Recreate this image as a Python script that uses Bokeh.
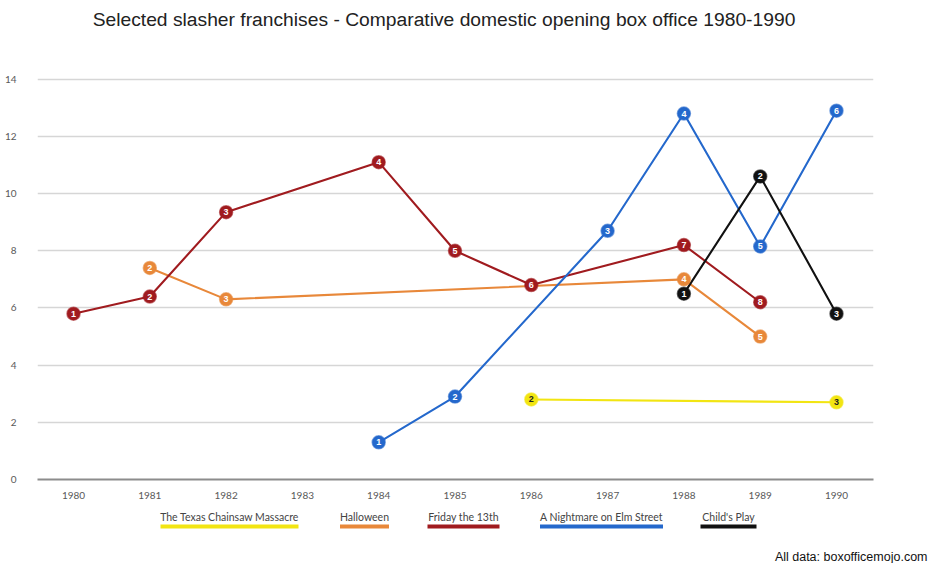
from bokeh.plotting import figure
from bokeh.layouts import column
from bokeh.models import FixedTicker, ColumnDataSource, Title
from bokeh.core.properties import value
from bokeh.embed import file_html
from bokeh.resources import INLINE

title_text = "Selected slasher franchises - Comparative domestic opening box office 1980-1990"
year_ticks = [1980, 1981, 1982, 1983, 1984, 1985, 1986, 1987, 1988, 1989, 1990]
y_ticks = [0, 2, 4, 6, 8, 10, 12, 14]

series_names = ["The Texas Chainsaw Massacre", "Halloween", "Friday the 13th",
                "A Nightmare on Elm Street", "Child's Play"]
series_colors = ["#f2e512", "#e8883a", "#a01b1f", "#2468cc", "#111111"]
number_colors = ["#222222", "white", "white", "white", "white"]

texas_years = [1986, 1990]
texas_vals = [2.8, 2.7]
texas_nums = ["2", "3"]

halloween_years = [1981, 1982, 1988, 1989]
halloween_vals = [7.4, 6.3, 7.0, 5.0]
halloween_nums = ["2", "3", "4", "5"]

friday_years = [1980, 1981, 1982, 1984, 1985, 1986, 1988, 1989]
friday_vals = [5.8, 6.4, 9.35, 11.1, 8.0, 6.8, 8.2, 6.2]
friday_nums = ["1", "2", "3", "4", "5", "6", "7", "8"]

nightmare_years = [1984, 1985, 1987, 1988, 1989, 1990]
nightmare_vals = [1.3, 2.9, 8.7, 12.8, 8.15, 12.9]
nightmare_nums = ["1", "2", "3", "4", "5", "6"]

childs_years = [1988, 1989, 1990]
childs_vals = [6.5, 10.6, 5.8]
childs_nums = ["1", "2", "3"]

footer_text = "All data: boxofficemojo.com"

series = [
    (texas_years, texas_vals, texas_nums),
    (halloween_years, halloween_vals, halloween_nums),
    (friday_years, friday_vals, friday_nums),
    (nightmare_years, nightmare_vals, nightmare_nums),
    (childs_years, childs_vals, childs_nums),
]

W = 929
FL, FR = 37, 56          # frame borders (left / right), shared by all strips
TICK_FONT = "Lato"

# ---- header strip with the title ----
HH = 40
hd = figure(width=W, height=HH, output_backend="svg", toolbar_location=None,
            x_range=(FL, W - FR), y_range=(HH, 0),
            x_axis_location=None, y_axis_location=None, title=None,
            min_border_left=FL, min_border_right=FR, min_border_top=0, min_border_bottom=0)
hd.grid.visible = False
hd.outline_line_color = None
hd.text([443.5], [19], text=[title_text], text_align="center", text_baseline="middle",
        text_font=value("Liberation Sans"), text_font_size="19.25px", text_color="#222222")

# ---- main chart ----
p = figure(width=W, height=501 - HH, output_backend="svg", toolbar_location=None,
           x_range=(1979.528, 1990.485), y_range=(0, 14.2), title=None,
           min_border_left=FL, min_border_right=FR, min_border_top=73 - HH, min_border_bottom=22)
p.outline_line_color = None
p.background_fill_color = "white"
p.border_fill_color = "white"

p.xaxis.ticker = FixedTicker(ticks=year_ticks)
p.xaxis.axis_line_color = "#8c8c8c"
p.xaxis.axis_line_width = 2
p.xaxis.major_tick_line_color = None
p.xaxis.minor_tick_line_color = None
p.xaxis.major_label_standoff = 6
p.xaxis.major_label_text_font = TICK_FONT
p.xaxis.major_label_text_font_size = "10px"
p.xaxis.major_label_text_color = "#595959"

p.yaxis.ticker = FixedTicker(ticks=y_ticks)
p.yaxis.axis_line_color = None
p.yaxis.major_tick_line_color = None
p.yaxis.minor_tick_line_color = None
p.yaxis.major_label_standoff = 15
p.yaxis.major_label_text_font = TICK_FONT
p.yaxis.major_label_text_font_size = "10px"
p.yaxis.major_label_text_color = "#595959"

p.xgrid.grid_line_color = None
p.ygrid.ticker = FixedTicker(ticks=y_ticks[1:])
p.ygrid.grid_line_color = "#d6d6d6"
p.ygrid.grid_line_width = 1.6

for (xs, ys, nums), col, ncol in zip(series, series_colors, number_colors):
    src = ColumnDataSource(dict(x=xs, y=ys, n=nums))
    p.line("x", "y", source=src, line_color=col, line_width=2.1)

for (xs, ys, nums), col, ncol in zip(series, series_colors, number_colors):
    src = ColumnDataSource(dict(x=xs, y=ys, n=nums))
    p.scatter("x", "y", source=src, size=13, fill_color=col, line_color=col,
              line_alpha=0.6, line_width=1.5)
    p.text("x", "y", text="n", source=src, text_align="center", text_baseline="middle",
           text_font=value("Liberation Sans"), text_font_size="9px",
           text_font_style="bold", text_color=ncol)

# ---- legend strip (page-pixel layout positions) ----
leg_centers = [229, 364, 463, 601, 728]
leg_widths = [138, 49, 72, 123, 56]
LH = 62
LB = 16
lg = figure(width=W, height=LH, output_backend="svg", toolbar_location=None,
            x_range=(FL, W - FR), y_range=(501 + LH - LB, 501),
            x_axis_location=None, y_axis_location=None, title=None,
            min_border_left=FL, min_border_right=FR, min_border_top=0, min_border_bottom=LB)
lg.grid.visible = False
lg.outline_line_color = None
lsrc = ColumnDataSource(dict(
    x=leg_centers, name=series_names, color=series_colors,
    x0=[c - w / 2 for c, w in zip(leg_centers, leg_widths)],
    x1=[c + w / 2 for c, w in zip(leg_centers, leg_widths)],
    ty=[516] * 5, by=[526] * 5))
lg.text("x", "ty", text="name", source=lsrc, text_align="center", text_baseline="middle",
        text_font=value(TICK_FONT), text_font_size="10.5px", text_color="#444444")
lg.segment("x0", "by", "x1", "by", source=lsrc, line_color="color", line_width=4)

foot = Title(text=footer_text, align="right", offset=-54, standoff=0,
             text_font="Liberation Sans", text_font_size="12.5px",
             text_font_style="normal", text_color="#111111")
lg.add_layout(foot, "below")

layout = column(hd, p, lg, spacing=0)
open("out.html", "w").write(file_html(layout, INLINE))
